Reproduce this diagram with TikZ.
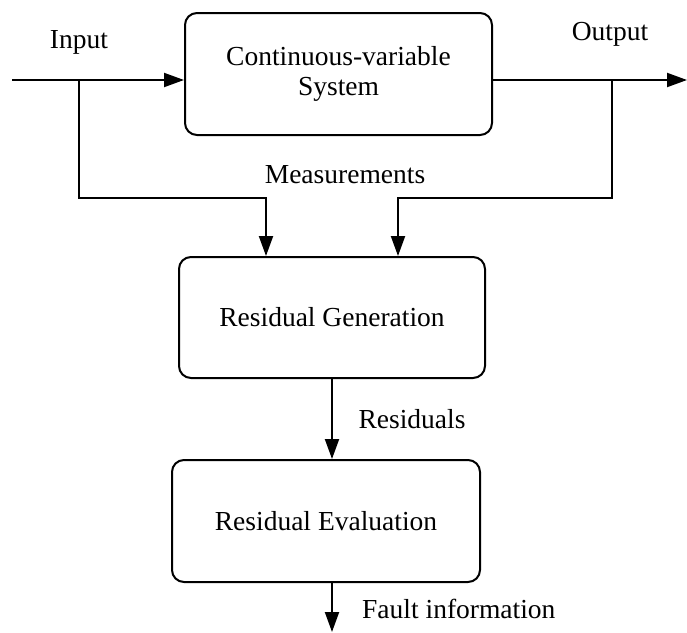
\documentclass[tikz,border=0pt]{standalone}
\usepackage{fontspec}
\setmainfont{Liberation Serif}
\usetikzlibrary{arrows.meta}
\begin{document}
\begin{tikzpicture}[x=1pt,y=-1pt,
  every node/.style={font=\fontsize{27.5}{30}\selectfont, inner sep=0pt},
  blk/.style={draw, line width=2pt, rounded corners=12pt, align=center},
  lbl/.style={anchor=base},
  arr/.style={line width=2pt, -{Triangle[length=20pt,width=14pt]}},
  wire/.style={line width=2pt}]
\useasboundingbox (0,0) rectangle (687,632);

% blocks
\node[blk, minimum width=307pt, minimum height=122pt] (sys) at (338.5,74) {Continuous-variable\\System};
\node[blk, minimum width=306pt, minimum height=121pt] (gen) at (332,317.5) {Residual Generation};
\node[blk, minimum width=308pt, minimum height=122pt] (eval) at (326,521) {Residual Evaluation};

% signal points
\coordinate (in) at (12,80);
\coordinate (inb) at (79,80);
\coordinate (outb) at (612,80);
\coordinate (out) at (687,80);
\coordinate (mL) at (266,198);
\coordinate (mR) at (398,198);
\coordinate (fault) at (332,632);

% labels
\node[lbl] (tin) at (79,48) {Input};
\node[lbl] (tout) at (610,40) {Output};
\node[lbl] (tmeas) at (345,183) {Measurements};
\node[lbl] (tres) at (412,428) {Residuals};
\node[lbl, anchor=base west] (tfault) at (362,618) {Fault information};

% connectors
\draw[arr] (in) -- (in -| sys.west);
\draw[arr] (sys.east |- out) -- (out);
\draw[arr] (inb) |- (mL) -- (mL |- gen.north);
\draw[arr] (outb) |- (mR) -- (mR |- gen.north);
\draw[arr] (gen.south -| 332,0) -- (eval.north -| 332,0);
\draw[arr] (eval.south -| fault) -- (fault);
\end{tikzpicture}
\end{document}
